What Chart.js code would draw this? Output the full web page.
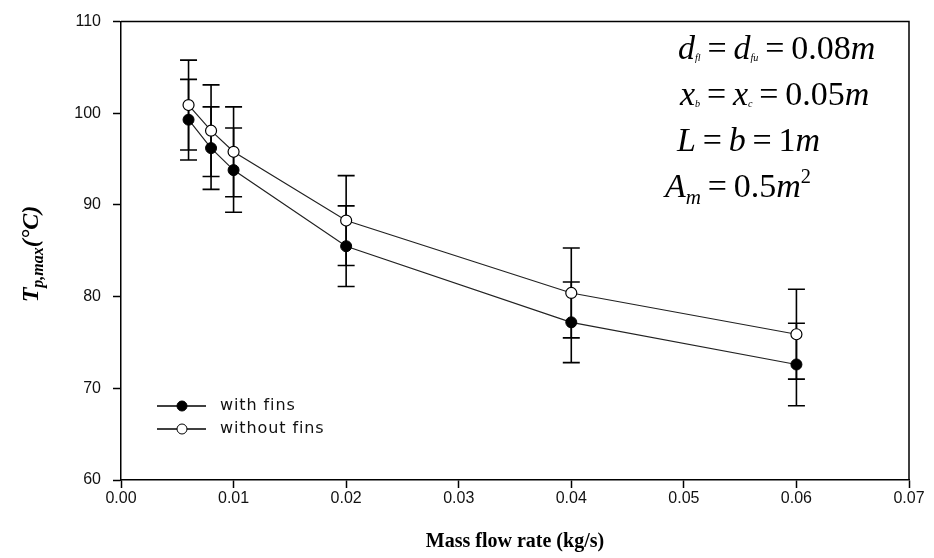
<!DOCTYPE html>
<html>
<head>
<meta charset="utf-8">
<script src="https://cdn.jsdelivr.net/npm/chart.js@4.4.0/dist/chart.umd.min.js"></script>
<style>
  html, body { margin: 0; padding: 0; background: #fff; }
  #wrap { width: 934px; height: 558px; position: relative; }
</style>
</head>
<body>
<div id="wrap"><canvas id="tempChart"></canvas></div>
<script>
// mass flow rate (kg/s)
const flowRates = [0.006, 0.008, 0.01, 0.02, 0.04, 0.06];
// peak plate temperature (°C) and its error band
const withFins = [99.3, 96.2, 93.8, 85.5, 77.2, 72.6];
const withFinsErr = [4.4, 4.5, 4.6, 4.4, 4.4, 4.5];
const withoutFins = [100.9, 98.1, 95.8, 88.3, 80.4, 75.9];
const withoutFinsErr = [4.9, 5.0, 4.9, 4.9, 4.9, 4.9];

const xTicks = [0, 0.01, 0.02, 0.03, 0.04, 0.05, 0.06, 0.07];
const yTicks = [60, 70, 80, 90, 100, 110];

const seriesLabels = ["with fins", "without fins"];

const toPoints = (ys) => flowRates.map((x, i) => ({ x: x, y: ys[i] }));

// vertical error bars with caps, drawn under the lines and markers
const errorBars = {
  id: "errorBars",
  beforeDatasetsDraw(chart) {
    const { ctx } = chart;
    const xs = chart.scales.x;
    const ys = chart.scales.y;
    ctx.save();
    ctx.strokeStyle = "#000";
    ctx.lineWidth = 1.6;
    chart.data.datasets.forEach((ds) => {
      ds.data.forEach((p, i) => {
        const px = xs.getPixelForValue(p.x);
        const top = ys.getPixelForValue(p.y + ds.errors[i]);
        const bot = ys.getPixelForValue(p.y - ds.errors[i]);
        ctx.beginPath();
        ctx.moveTo(px, top);
        ctx.lineTo(px, bot);
        ctx.moveTo(px - 8.5, top);
        ctx.lineTo(px + 8.5, top);
        ctx.moveTo(px - 8.5, bot);
        ctx.lineTo(px + 8.5, bot);
        ctx.stroke();
      });
    });
    ctx.restore();
  },
};

// closes the plot box on the top and right
const frame = {
  id: "frame",
  afterDraw(chart) {
    const { ctx, chartArea: a } = chart;
    ctx.save();
    ctx.strokeStyle = "#000";
    ctx.lineWidth = 1.5;
    ctx.beginPath();
    ctx.moveTo(a.left, a.top);
    ctx.lineTo(a.right, a.top);
    ctx.lineTo(a.right, a.bottom);
    ctx.stroke();
    ctx.restore();
  },
};

// small legend in the lower left of the plot
const lineLegend = {
  id: "lineLegend",
  afterDraw(chart) {
    const { ctx } = chart;
    ctx.save();
    chart.data.datasets.forEach((ds, i) => {
      const y = 406 + i * 23;
      ctx.strokeStyle = "#000";
      ctx.lineWidth = 1.5;
      ctx.beginPath();
      ctx.moveTo(157, y);
      ctx.lineTo(206, y);
      ctx.stroke();
      ctx.beginPath();
      ctx.arc(182, y, 5, 0, Math.PI * 2);
      ctx.fillStyle = ds.backgroundColor;
      ctx.fill();
      ctx.lineWidth = 1;
      ctx.stroke();
      ctx.fillStyle = "#111";
      ctx.font = "16px 'DejaVu Sans'";
      ctx.letterSpacing = "0.9px";
      ctx.textBaseline = "middle";
      ctx.fillText(ds.label, 220, y);
    });
    ctx.restore();
  },
};

// draws a run of math text: italic symbols, upright numbers, sub/superscripts
const drawMath = (ctx, pieces, x, y, size) => {
  let cx = x;
  pieces.forEach((p) => {
    const s = size * (p.s || 1);
    const style = p.f === "i" ? "italic " : "";
    ctx.font = style + s + "px 'Liberation Serif'";
    const gap = p.t === "=" ? size * 0.2 : 0;
    cx += gap;
    ctx.fillText(p.t, cx, y + (p.dy || 0));
    cx += ctx.measureText(p.t).width + gap;
  });
};

const eq = { t: "=" };
const paramLines = [
  { x: 678, y: 59, pieces: [
    { t: "d", f: "i" }, { t: "fl", f: "i", s: 0.3, dy: 2 }, eq,
    { t: "d", f: "i" }, { t: "fu", f: "i", s: 0.3, dy: 2 }, eq,
    { t: "0.08" }, { t: "m", f: "i" }] },
  { x: 680, y: 105, pieces: [
    { t: "x", f: "i" }, { t: "b", f: "i", s: 0.3, dy: 2 }, eq,
    { t: "x", f: "i" }, { t: "c", f: "i", s: 0.3, dy: 2 }, eq,
    { t: "0.05" }, { t: "m", f: "i" }] },
  { x: 677, y: 151, pieces: [
    { t: "L", f: "i" }, eq, { t: "b", f: "i" }, eq,
    { t: "1" }, { t: "m", f: "i" }] },
  { x: 665, y: 197, pieces: [
    { t: "A", f: "i" }, { t: "m", f: "i", s: 0.62, dy: 7 }, eq,
    { t: "0.5" }, { t: "m", f: "i" }, { t: "2", s: 0.6, dy: -14 }] },
];

const annotations = {
  id: "annotations",
  afterDraw(chart) {
    const { ctx } = chart;
    ctx.save();
    ctx.fillStyle = "#000";
    ctx.textBaseline = "alphabetic";
    paramLines.forEach((l) => drawMath(ctx, l.pieces, l.x, l.y, 34));

    // rotated y-axis title with subscript
    ctx.translate(38, 254);
    ctx.rotate(-Math.PI / 2);
    const big = "bold italic 24px 'Liberation Serif'";
    const small = "bold italic 16px 'Liberation Serif'";
    const parts = [["T", big, 0], ["p,max", small, 5], ["(°C)", big, 0]];
    let w = 0;
    parts.forEach(([t, f]) => { ctx.font = f; w += ctx.measureText(t).width; });
    let cx = -w / 2;
    parts.forEach(([t, f, dy]) => {
      ctx.font = f;
      ctx.fillText(t, cx, dy);
      cx += ctx.measureText(t).width;
    });
    ctx.restore();
  },
};

const tickFont = { family: "'Liberation Sans', Arial, sans-serif", size: 16 };

new Chart(document.getElementById("tempChart"), {
  type: "scatter",
  data: {
    datasets: [
      {
        label: seriesLabels[0],
        data: toPoints(withFins),
        errors: withFinsErr,
        showLine: true,
        borderColor: "#222",
        borderWidth: 1.2,
        backgroundColor: "#000",
        pointBorderColor: "#000",
        pointBorderWidth: 1,
        pointRadius: 5.5,
      },
      {
        label: seriesLabels[1],
        data: toPoints(withoutFins),
        errors: withoutFinsErr,
        showLine: true,
        borderColor: "#222",
        borderWidth: 1.2,
        backgroundColor: "#fff",
        pointBorderColor: "#000",
        pointBorderWidth: 1.2,
        pointRadius: 5.5,
      },
    ],
  },
  options: {
    responsive: true,
    maintainAspectRatio: false,
    animation: false,
    layout: { padding: { top: 19, right: 25, left: 0, bottom: 0 } },
    plugins: {
      legend: { display: false },
      tooltip: { enabled: false },
    },
    scales: {
      x: {
        type: "linear",
        min: 0,
        max: 0.07,
        afterBuildTicks: (s) => { s.ticks = xTicks.map((v) => ({ value: v })); },
        afterFit: (s) => { s.height = 78; },
        ticks: {
          color: "#111",
          font: tickFont,
          padding: 1,
          callback: (v) => v.toFixed(2),
        },
        grid: { drawOnChartArea: false, tickLength: 8, tickColor: "#000", tickWidth: 1.5 },
        border: { color: "#000", width: 1.5 },
        title: {
          display: true,
          text: "Mass flow rate (kg/s)",
          color: "#000",
          font: { family: "'Liberation Serif', serif", size: 20, weight: "bold" },
          padding: { top: 0, bottom: 4 },
        },
      },
      y: {
        min: 60,
        max: 110,
        afterBuildTicks: (s) => { s.ticks = yTicks.map((v) => ({ value: v })); },
        afterFit: (s) => { s.width = 121; },
        ticks: { color: "#111", font: tickFont, padding: 12 },
        grid: { drawOnChartArea: false, tickLength: 8, tickColor: "#000", tickWidth: 1.5 },
        border: { color: "#000", width: 1.5 },
      },
    },
  },
  plugins: [errorBars, frame, lineLegend, annotations],
});
</script>
</body>
</html>
